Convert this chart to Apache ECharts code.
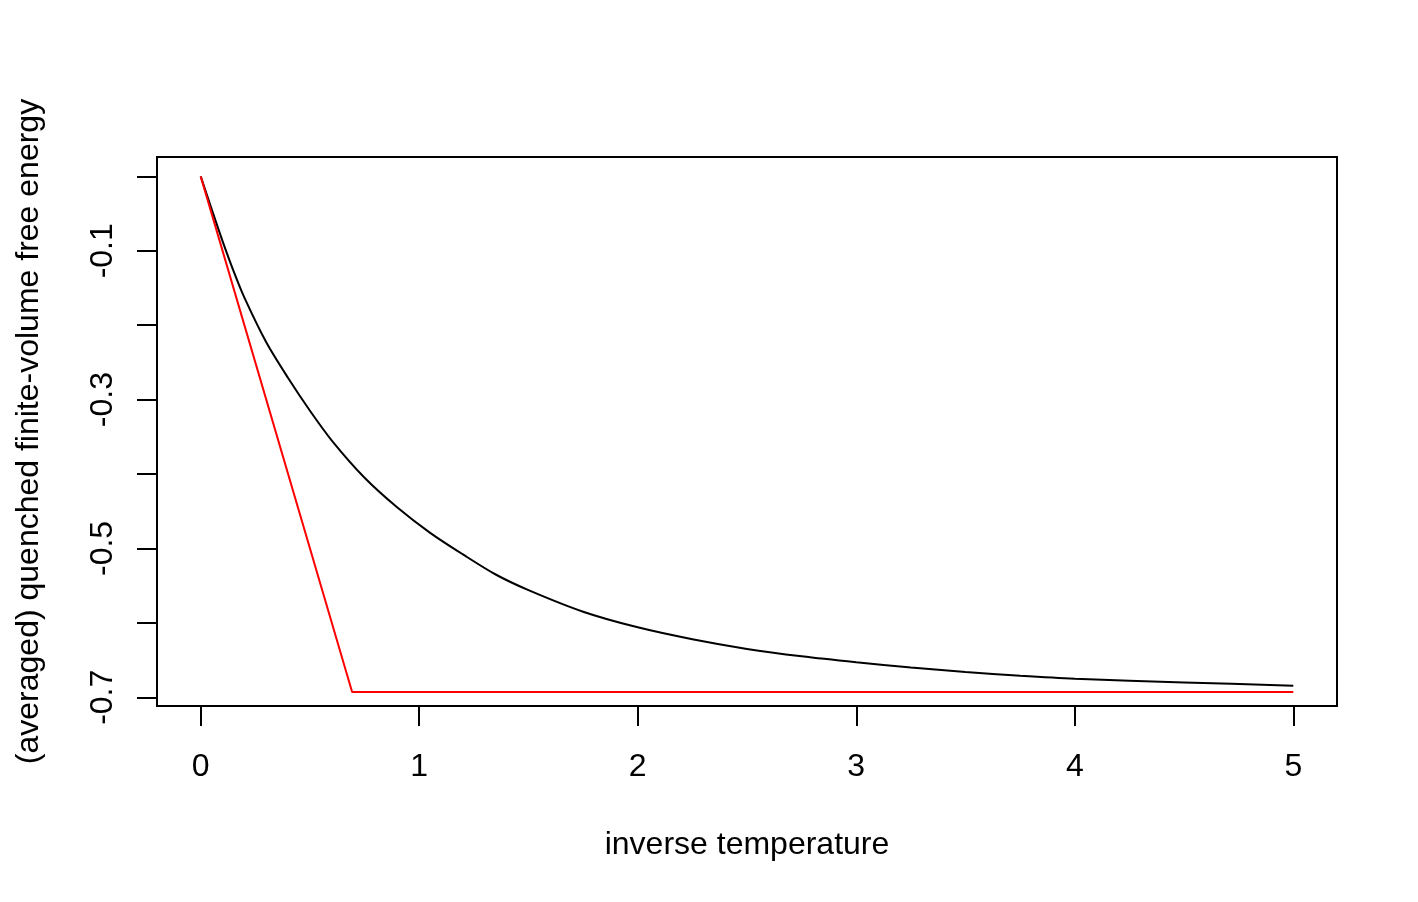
<!DOCTYPE html>
<html>
<head>
<meta charset="utf-8">
<script src="https://cdn.jsdelivr.net/npm/echarts@6/dist/echarts.min.js"></script>
<style>
html,body{margin:0;padding:0;background:#fff;}
#chart{width:1418px;height:902px;}
</style>
</head>
<body>
<div id="chart"></div>
<script>
// inverse temperature values for the black curve
var betaBlack = [0, 0.05, 0.1, 0.15, 0.2, 0.3, 0.4, 0.5, 0.6, 0.75, 0.9, 1.05, 1.2, 1.35, 1.5, 1.75, 2.0, 2.25, 2.5, 2.75, 3.0, 3.25, 3.5, 3.75, 4.0, 4.5, 5.0];
// (averaged) quenched finite-volume free energy
var freeEnergy = [0, -0.044, -0.087, -0.127, -0.163, -0.223, -0.271, -0.315, -0.355, -0.405, -0.445, -0.479, -0.508, -0.535, -0.556, -0.585, -0.606, -0.622, -0.635, -0.645, -0.653, -0.660, -0.666, -0.671, -0.675, -0.680, -0.6844];
// red reference line
var betaRed = [0, 0.693, 5];
var redValues = [0, -0.693, -0.693];
// ticks and labels
var xTicks = [0, 1, 2, 3, 4, 5];
var yTicks = [0, -0.1, -0.2, -0.3, -0.4, -0.5, -0.6, -0.7];
var yLabels = [-0.1, -0.3, -0.5, -0.7];

function zip(a, b) { return a.map(function (v, i) { return [v, b[i]]; }); }

var FONT = 'Liberation Sans, Arial, Helvetica, sans-serif';
var chart = echarts.init(document.getElementById('chart'));
chart.setOption({
  animation: false,
  backgroundColor: '#ffffff',
  grid: {
    left: 157, right: 81, top: 157, bottom: 196,
    show: true, borderColor: '#000', borderWidth: 2, backgroundColor: 'transparent'
  },
  xAxis: {
    type: 'value', min: -0.2, max: 5.2,
    splitLine: { show: false },
    axisLine: { show: false, onZero: false },
    axisTick: { show: true, customValues: xTicks, length: 20, inside: false, lineStyle: { color: '#000', width: 2 } },
    axisLabel: { customValues: xTicks, margin: 45, color: '#000', fontSize: 32, fontFamily: FONT },
    name: 'inverse temperature', nameLocation: 'middle', nameGap: 123,
    nameTextStyle: { color: '#000', fontSize: 32, fontFamily: FONT, verticalAlign: 'top' }
  },
  yAxis: {
    type: 'value', min: -0.7117, max: 0.026,
    splitLine: { show: false },
    axisLine: { show: false, onZero: false },
    axisTick: { show: true, customValues: yTicks, length: 20, inside: false, lineStyle: { color: '#000', width: 2 } },
    axisLabel: {
      customValues: yLabels, margin: 38, rotate: 90, color: '#000', fontSize: 32, fontFamily: FONT,
      formatter: function (v) { return v.toFixed(1); }
    },
    name: '(averaged) quenched finite-volume free energy', nameLocation: 'middle', nameGap: 112, nameRotate: 90,
    nameTextStyle: { color: '#000', fontSize: 32, fontFamily: FONT }
  },
  series: [
    {
      type: 'line', data: zip(betaBlack, freeEnergy), showSymbol: false,
      smooth: 0.3,
      lineStyle: { color: '#000', width: 2 }, z: 2
    },
    {
      type: 'line', data: zip(betaRed, redValues), showSymbol: false,
      lineStyle: { color: '#ff0000', width: 2 }, z: 3
    }
  ]
});
</script>
</body>
</html>
